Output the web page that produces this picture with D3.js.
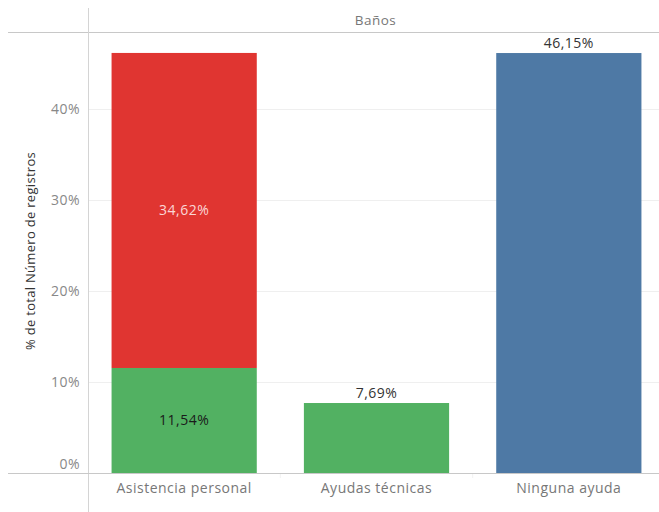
<!DOCTYPE html>
<html>
<head>
<meta charset="utf-8">
<script src="https://cdn.jsdelivr.net/npm/d3@7"></script>
<style>
  body { margin: 0; background: #fff; }
  text { font-family: "Open Sans", "Noto Sans", sans-serif; letter-spacing: 0.5px; }
</style>
</head>
<body>
<div class="chart"></div>
<script>
// data
var categories = ["Asistencia personal", "Ayudas técnicas", "Ninguna ayuda"];
var greenValues = [11.54, 7.69, 0];
var redValues = [34.62, 0, 0];
var blueValues = [0, 0, 46.15];
var yTicks = [0, 10, 20, 30, 40];
var header = "Baños";
var yLabel = "% de total Número de registros";

var W = 659, H = 512;
var margin = { top: 32, left: 88, bottom: 473 };
var plotRight = 665;

var svg = d3.select(".chart")
    .append("svg")
    .attr("width", W)
    .attr("height", H);

var x = d3.scaleBand()
    .domain(categories)
    .range([margin.left, plotRight])
    .paddingInner(0.245)
    .paddingOuter(0.1225);

var y = d3.scaleLinear()
    .domain([0, 10])
    .range([margin.bottom, margin.bottom - 91]);

function fmt(v) { return v.toFixed(2).replace(".", ",") + "%"; }

// gridlines
svg.append("g")
    .selectAll("line")
    .data(yTicks.filter(function (d) { return d > 0; }))
    .enter()
    .append("line")
    .attr("x1", margin.left)
    .attr("x2", W)
    .attr("y1", function (d) { return Math.round(y(d)) + 0.5; })
    .attr("y2", function (d) { return Math.round(y(d)) + 0.5; })
    .attr("stroke", "#efefef")
    .attr("stroke-width", 1);

// header frame lines
svg.append("line")
    .attr("x1", 8).attr("x2", W)
    .attr("y1", margin.top + 0.5).attr("y2", margin.top + 0.5)
    .attr("stroke", "#c8c8c8");
svg.append("line")
    .attr("x1", margin.left + 0.5).attr("x2", margin.left + 0.5)
    .attr("y1", 8).attr("y2", H)
    .attr("stroke", "#d4d4d4");

svg.append("text")
    .attr("x", (margin.left + plotRight) / 2 - 1)
    .attr("y", 25)
    .attr("text-anchor", "middle")
    .attr("fill", "#777")
    .style("font-size", "13.5px")
    .text(header);

// bars
var stacked = categories.map(function (c, i) {
    return [
        { cat: c, y0: 0, y1: greenValues[i], color: "#52b162", label: "#1a1a1a", v: greenValues[i] },
        { cat: c, y0: greenValues[i], y1: greenValues[i] + redValues[i], color: "#e03531", label: "#fbd6d6", v: redValues[i] },
        { cat: c, y0: greenValues[i] + redValues[i], y1: greenValues[i] + redValues[i] + blueValues[i], color: "#4e79a5", label: "#333", v: blueValues[i] }
    ];
});
var segs = d3.merge(stacked).filter(function (d) { return d.v > 0; });

svg.append("g")
    .selectAll("rect")
    .data(segs)
    .enter()
    .append("rect")
    .attr("x", function (d) { return x(d.cat); })
    .attr("width", x.bandwidth())
    .attr("y", function (d) { return y(d.y1); })
    .attr("height", function (d) { return y(d.y0) - y(d.y1); })
    .attr("fill", function (d) { return d.color; });

// labels: stacked bar shows inside, single bars on top
categories.forEach(function (c, i) {
    var parts = stacked[i].filter(function (d) { return d.v > 0; });
    if (parts.length > 1) {
        parts.forEach(function (d) {
            svg.append("text")
                .attr("x", x(c) + x.bandwidth() / 2)
                .attr("y", (y(d.y0) + y(d.y1)) / 2 + 5)
                .attr("text-anchor", "middle")
                .attr("fill", d.label)
                .style("font-size", "14px")
                .text(fmt(d.v));
        });
    } else {
        var d = parts[0];
        svg.append("text")
            .attr("x", x(c) + x.bandwidth() / 2)
            .attr("y", y(d.y1) - 5)
            .attr("text-anchor", "middle")
            .attr("fill", "#333")
            .style("font-size", "14px")
            .text(fmt(d.v));
    }
});

// baseline
svg.append("line")
    .attr("x1", 8).attr("x2", W)
    .attr("y1", margin.bottom + 0.5).attr("y2", margin.bottom + 0.5)
    .attr("stroke", "#c8c8c8");

// category separators
svg.append("g")
    .selectAll("line")
    .data(categories.slice(1))
    .enter()
    .append("line")
    .attr("x1", function (d) { return x(d) - x.step() * x.paddingInner() / 2; })
    .attr("x2", function (d) { return x(d) - x.step() * x.paddingInner() / 2; })
    .attr("y1", margin.bottom + 1)
    .attr("y2", margin.bottom + 5)
    .attr("stroke", "#f2f2f2");

// y axis labels
svg.append("g")
    .selectAll("text")
    .data(yTicks)
    .enter()
    .append("text")
    .attr("x", 80)
    .attr("y", function (d) { return d === 0 ? y(d) - 4 : y(d) + 5; })
    .attr("text-anchor", "end")
    .attr("fill", "#888")
    .style("font-size", "14px")
    .text(function (d) { return d + "%"; });

// category labels
svg.append("g")
    .selectAll("text")
    .data(categories)
    .enter()
    .append("text")
    .attr("x", function (d) { return x(d) + x.bandwidth() / 2; })
    .attr("y", 493)
    .attr("text-anchor", "middle")
    .attr("fill", "#777")
    .style("font-size", "14px")
    .text(function (d) { return d; });

svg.append("text")
    .attr("transform", "translate(35,251) rotate(-90)")
    .attr("text-anchor", "middle")
    .attr("fill", "#333")
    .style("font-size", "13px")
    .style("letter-spacing", "0.3px")
    .text(yLabel);
</script>
</body>
</html>
